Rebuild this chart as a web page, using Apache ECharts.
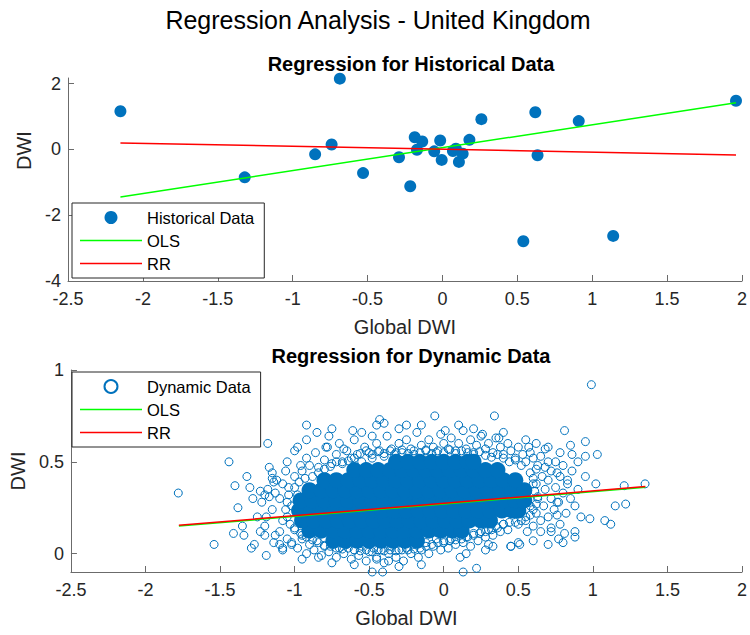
<!DOCTYPE html>
<html><head><meta charset="utf-8">
<script src="https://cdn.jsdelivr.net/npm/echarts@6/dist/echarts.min.js"></script>
<style>html,body{margin:0;padding:0;background:#fff}#c{width:750px;height:635px}</style>
</head><body><div id="c"></div>
<script>
const FONT = "'Liberation Sans', Arial, Helvetica, sans-serif";
const BLUE = '#0072BD';

// ---- axes ----
const xTicks = [-2.5, -2, -1.5, -1, -0.5, 0, 0.5, 1, 1.5, 2];
const yTicksHist = [-4, -2, 0, 2];
const yTicksDyn = [0, 0.5, 1];

// ---- historical data (top) ----
const histX = [-2.15, -1.32, -0.85, -0.74, -0.685, -0.53, -0.29, -0.215, -0.185, -0.17, -0.135, -0.055, -0.015, -0.005, 0.07, 0.09, 0.11, 0.135, 0.18, 0.26, 0.54, 0.62, 0.635, 0.91, 1.14, 1.96];
const histY = [1.16, -0.85, -0.15, 0.15, 2.15, -0.72, -0.24, -1.12, 0.37, -0.01, 0.24, -0.06, 0.27, -0.32, -0.05, 0.02, -0.38, -0.13, 0.29, 0.92, -2.79, 1.13, -0.18, 0.86, -2.63, 1.48];
const olsHistX = [-2.15, 1.96];
const olsHistY = [-1.45, 1.42];
const rrHistX = [-2.15, 1.96];
const rrHistY = [0.195, -0.17];

// ---- dynamic data (bottom) ----
const olsDynX = [-1.776, 1.352];
const olsDynY = [0.150, 0.362];
const rrDynX = [-1.776, 1.352];
const rrDynY = [0.154, 0.366];

// dense centre of the cloud, where the markers overlap into a solid area (read row by row)
const dynamicCoreY = [0.07, 0.125, 0.18, 0.235, 0.29, 0.345, 0.40, 0.455, 0.50];
const dynamicCoreX = [
 [-0.74,-0.66,-0.58,-0.5,-0.42,-0.34,-0.26,-0.18],
 [-0.9,-0.82,-0.74,-0.66,-0.58,-0.5,-0.42,-0.34,-0.26,-0.18,-0.1,-0.02,0.06,0.12],
 [-0.95,-0.87,-0.79,-0.71,-0.63,-0.55,-0.47,-0.39,-0.31,-0.23,-0.15,-0.07,0.01,0.09,0.17,0.25,0.31],
 [-0.97,-0.89,-0.81,-0.73,-0.65,-0.57,-0.49,-0.41,-0.33,-0.25,-0.17,-0.09,-0.01,0.07,0.15,0.23,0.31,0.39,0.46,0.5],
 [-0.96,-0.88,-0.8,-0.72,-0.64,-0.56,-0.48,-0.4,-0.32,-0.24,-0.16,-0.08,0,0.08,0.16,0.24,0.32,0.4,0.48,0.54],
 [-0.9,-0.82,-0.74,-0.66,-0.58,-0.5,-0.42,-0.34,-0.26,-0.18,-0.1,-0.02,0.06,0.14,0.22,0.3,0.38,0.46,0.54],
 [-0.8,-0.72,-0.64,-0.56,-0.48,-0.4,-0.32,-0.24,-0.16,-0.08,0,0.08,0.16,0.24,0.32,0.4,0.48],
 [-0.6,-0.52,-0.44,-0.36,-0.28,-0.2,-0.12,-0.04,0.04,0.12,0.2,0.28,0.36],
 [-0.32,-0.24,-0.16,-0.08,0,0.08,0.16,0.2]
];

// individual circles around the centre and outliers
const dynamicPoints = [
 // ring at the edge of the dense centre
 [-0.56,0.545],[-0.52,0.56],[-0.48,0.54],[-0.44,0.555],[-0.4,0.545],[-0.36,0.56],[-0.32,0.55],[-0.28,0.565],[-0.24,0.545],[-0.2,0.56],[-0.16,0.55],[-0.12,0.565],[-0.08,0.545],[-0.04,0.56],[0.0,0.55],[0.04,0.565],[0.08,0.545],[0.12,0.56],[0.16,0.55],[0.2,0.54],[0.24,0.555],[0.28,0.535],[0.32,0.525],[0.36,0.54],[0.4,0.52],[0.44,0.5],[0.48,0.51],[0.52,0.48],[-0.6,0.52],[-0.64,0.505],[-0.68,0.49],[-0.72,0.5],[-0.76,0.475],[-0.8,0.46],[-0.84,0.44],[-0.88,0.42],
 [0.58,0.44],[0.6,0.41],[0.62,0.38],[0.61,0.34],[0.63,0.31],[0.62,0.27],[0.6,0.24],[0.58,0.21],[0.55,0.2],[0.52,0.18],[0.48,0.17],[0.44,0.17],[0.4,0.16],
 [0.36,0.14],[0.32,0.13],[0.28,0.12],[0.24,0.11],[0.2,0.1],[0.16,0.09],[0.12,0.08],[0.08,0.075],[0.04,0.07],[0.0,0.07],[-0.04,0.06],[-0.08,0.05],[-0.12,0.04],[-0.16,0.03],[-0.2,0.025],[-0.24,0.02],[-0.28,0.02],[-0.32,0.015],[-0.36,0.02],[-0.4,0.015],[-0.44,0.02],[-0.48,0.01],[-0.52,0.02],[-0.56,0.015],[-0.6,0.02],[-0.64,0.03],[-0.68,0.025],[-0.72,0.03],[-0.76,0.04],[-0.8,0.045],[-0.84,0.06],[-0.88,0.075],[-0.92,0.09],[-0.96,0.11],
 [-1.0,0.13],[-1.03,0.16],[-1.05,0.2],[-1.06,0.24],[-1.05,0.28],[-1.04,0.32],[-1.0,0.36],[-0.97,0.39],[-0.93,0.41],
 // top band
 [-0.95,0.45],[-0.92,0.52],[-0.9,0.48],[-0.86,0.55],[-0.84,0.47],[-0.8,0.51],[-0.78,0.58],[-0.75,0.49],[-0.72,0.54],[-0.7,0.6],[-0.68,0.5],[-0.65,0.56],[-0.62,0.52],[-0.6,0.62],[-0.58,0.54],[-0.55,0.5],[-0.53,0.58],[-0.5,0.55],[-0.48,0.52],[-0.45,0.6],[-0.43,0.56],[-0.4,0.53],[-0.38,0.64],[-0.35,0.57],[-0.33,0.54],[-0.3,0.6],[-0.28,0.55],[-0.25,0.62],[-0.22,0.57],[-0.2,0.54],[-0.18,0.66],[-0.15,0.59],[-0.12,0.56],[-0.1,0.62],[-0.07,0.58],[-0.05,0.55],[-0.02,0.65],[0.0,0.6],[0.03,0.57],[0.05,0.63],[0.08,0.56],[0.1,0.6],[0.13,0.67],[0.15,0.57],[0.18,0.62],[0.2,0.55],[0.22,0.59],[0.25,0.64],[0.28,0.57],[0.3,0.6],[0.33,0.55],[0.35,0.63],[0.38,0.58],[0.4,0.54],[0.43,0.6],[0.45,0.56],[0.48,0.52],[0.5,0.58],[0.53,0.54],[0.55,0.5],[0.58,0.55],[0.6,0.52],[0.63,0.48],[0.65,0.53],[0.68,0.47],[0.7,0.5],
 // bottom band
 [-1.02,0.06],[-0.98,0.03],[-0.95,0.08],[-0.92,0.0],[-0.9,0.05],[-0.87,0.02],[-0.85,0.07],[-0.82,-0.01],[-0.8,0.04],[-0.77,0.01],[-0.75,0.06],[-0.72,-0.02],[-0.7,0.03],[-0.67,0.0],[-0.65,0.05],[-0.62,-0.03],[-0.6,0.02],[-0.57,-0.01],[-0.55,0.04],[-0.52,-0.04],[-0.5,0.01],[-0.47,0.03],[-0.45,-0.02],[-0.42,0.02],[-0.4,-0.05],[-0.37,0.0],[-0.35,0.04],[-0.32,-0.02],[-0.3,0.02],[-0.27,-0.04],[-0.25,0.03],[-0.22,0.0],[-0.2,0.05],[-0.17,-0.02],[-0.15,0.02],[-0.12,0.06],[-0.1,0.0],[-0.07,0.04],[-0.05,0.08],[-0.02,0.02],[0.0,0.06],[0.03,0.03],[0.05,0.08],[0.08,0.05],[0.1,0.1],[0.13,0.06],[0.15,0.09],[0.18,0.04],[0.2,0.11],[0.23,0.07],[0.25,0.12],[0.28,0.09],[0.3,0.13],[0.33,0.1],[0.35,0.15],[0.38,0.12],[0.4,0.16],[0.43,0.13],
 // left band
 [-1.25,0.2],[-1.22,0.28],[-1.2,0.15],[-1.18,0.35],[-1.15,0.24],[-1.13,0.1],[-1.12,0.4],[-1.1,0.3],[-1.08,0.18],[-1.06,0.45],[-1.05,0.08],[-1.04,0.36],[-1.02,0.26],[-1.0,0.14],[-1.0,0.42],[-0.98,0.32],[-0.97,0.2],[-0.96,0.48],[-0.95,0.1],[-1.15,0.44],[-1.1,0.12],[-1.08,0.38],[-1.2,0.32],[-1.23,0.12],[-1.14,0.06],
 // right band
 [0.5,0.16],[0.55,0.18],[0.6,0.15],[0.62,0.22],[0.65,0.18],[0.67,0.26],[0.7,0.2],[0.72,0.3],[0.74,0.24],[0.75,0.36],[0.77,0.28],[0.78,0.42],[0.8,0.33],[0.82,0.22],[0.83,0.38],[0.85,0.3],[0.7,0.4],[0.72,0.45],[0.66,0.42],[0.62,0.46],[0.68,0.35],[0.63,0.3],[0.6,0.38],[0.88,0.26],[0.9,0.35],[0.86,0.45],[0.8,0.48],[0.75,0.5],[0.58,0.26],[0.65,0.12],[0.72,0.14],[0.78,0.16],[0.56,0.12],
 // sparse layer
 [-1.35,0.15],[-1.32,0.42],[-1.28,0.3],[-1.27,0.05],[-1.38,0.25],[-1.05,0.5],[-0.98,0.58],[-0.92,0.62],[-0.85,0.66],[-0.75,0.68],[-0.55,0.66],[-0.45,0.7],[-0.3,0.68],[-0.15,0.7],[0.1,0.7],[0.2,0.68],[0.4,0.66],[0.55,0.62],[0.62,0.6],[0.7,0.58],[0.78,0.55],[0.9,0.5],[0.95,0.42],[0.92,0.2],[0.88,0.12],[0.8,0.06],[0.7,0.05],[0.6,0.07],[0.5,0.06],[0.45,0.04],[0.28,0.02],[0.15,0.0],[-0.15,-0.06],[-0.3,-0.07],[-0.6,-0.06],[-0.75,-0.05],[-0.95,-0.03],[-1.08,0.02],
 // outliers
 [-1.78,0.33],[-1.54,0.05],[-1.44,0.5],[-1.41,0.11],[-1.4,0.37],[-1.34,0.1],[-1.3,0.36],[-1.29,0.03],[-1.23,0.34],[-1.2,0.1],[-1.19,-0.01],[-1.18,0.6],[-1.17,0.47],[-1.17,0.31],[-1.19,0.2],[-1.15,0.41],[-1.14,0.39],[-1.13,0.33],[-1.1,0.05],[-1.08,0.03],[-1.02,0.05],[-1.0,0.56],[-0.92,0.7],[-0.84,-0.02],[-0.77,0.64],[-0.79,0.58],[-0.67,0.57],[-0.61,0.67],[-0.48,0.64],[-0.43,0.73],[-0.4,0.71],[-0.48,-0.1],[-0.41,-0.1],[-0.45,-0.03],[-0.37,-0.04],[-0.25,0.7],[-0.06,0.75],[0.01,0.67],[0.11,-0.02],[0.13,-0.1],[0.22,-0.08],[0.26,0.65],[0.34,0.75],[0.37,0.63],[0.57,0.58],[0.68,0.57],[0.81,0.67],[0.86,0.54],[0.85,0.59],[0.95,0.61],[0.95,0.53],[1.03,0.54],[0.99,0.92],[1.02,0.38],[0.98,0.19],[1.08,0.18],[1.12,0.16],[1.15,0.26],[1.22,0.27],[1.21,0.37],[1.35,0.38],[0.88,0.09],[0.81,0.11],[0.77,0.08],[0.72,0.12],[0.76,0.21],[0.76,0.28],[0.76,0.44],[0.83,0.4],[0.51,0.05],[0.45,0.04],[0.33,0.04],[0.3,0.05]
];

function pairs(xs, ys) { return xs.map((x, i) => [x, ys[i]]); }
const dynamicCore = [];
dynamicCoreY.forEach((y, r) => dynamicCoreX[r].forEach(x => dynamicCore.push([x, y])));

const AXIS_COLOR = '#6b6b6b';
const LABEL_COLOR = '#262626';
const LINE_ICON = 'path://M0,0H62V1.5H0Z';

function xAxisCfg(gridIndex) {
  return {
    type: 'value', gridIndex, min: -2.5, max: 2, interval: 0.5,
    name: 'Global DWI', nameLocation: 'middle', nameGap: 36,
    nameTextStyle: { fontFamily: FONT, fontSize: 20, color: LABEL_COLOR },
    axisLine: { show: true, onZero: false, lineStyle: { color: AXIS_COLOR, width: 1 } },
    axisTick: { show: true, inside: true, length: 6, lineStyle: { color: AXIS_COLOR }, customValues: xTicks },
    axisLabel: { fontFamily: FONT, fontSize: 18, color: LABEL_COLOR, margin: 9, customValues: xTicks },
    splitLine: { show: false }
  };
}
function yAxisCfg(gridIndex, min, max, interval, ticks, namePad) {
  return {
    type: 'value', gridIndex, min, max, interval,
    name: 'DWI', nameLocation: 'middle', nameGap: 32,
    nameTextStyle: { fontFamily: FONT, fontSize: 20, color: LABEL_COLOR, padding: namePad },
    axisLine: { show: true, onZero: false, lineStyle: { color: AXIS_COLOR, width: 1 } },
    axisTick: { show: true, inside: true, length: 6, lineStyle: { color: AXIS_COLOR }, customValues: ticks },
    axisLabel: { fontFamily: FONT, fontSize: 18, color: LABEL_COLOR, margin: 7, customValues: ticks },
    splitLine: { show: false }
  };
}
function legendCfg(top, names) {
  return {
    orient: 'vertical', left: 72, top,
    padding: [6, 10, 6, 8],
    itemWidth: 62, itemHeight: 13, itemGap: 6,
    selectedMode: false,
    backgroundColor: '#fff', borderColor: '#262626', borderWidth: 1,
    textStyle: { fontFamily: FONT, fontSize: 16.5, color: '#000' },
    data: [names[0], { name: names[1], icon: LINE_ICON }, { name: names[2], icon: LINE_ICON }]
  };
}

const chart = echarts.init(document.getElementById('c'), null, { renderer: 'svg' });
chart.setOption({
  animation: false,
  backgroundColor: '#fff',
  title: [
    { text: 'Regression Analysis - United Kingdom', left: 373, top: 2, textAlign: 'center',
      textStyle: { fontFamily: FONT, fontSize: 25, fontWeight: 'normal', color: '#000' } },
    { text: 'Regression for Historical Data', left: 406, top: 49, textAlign: 'center',
      textStyle: { fontFamily: FONT, fontSize: 20, fontWeight: 'bold', color: '#000' } },
    { text: 'Regression for Dynamic Data', left: 406, top: 341, textAlign: 'center',
      textStyle: { fontFamily: FONT, fontSize: 20, fontWeight: 'bold', color: '#000' } }
  ],
  grid: [
    { left: 68, right: 6, top: 78, height: 203 },
    { left: 68, right: 6, top: 370, height: 202 }
  ],
  xAxis: [xAxisCfg(0), xAxisCfg(1)],
  yAxis: [
    yAxisCfg(0, -4, 2.17, 2, yTicksHist, [0, 0, 0, 58]),
    yAxisCfg(1, -0.1, 1, 0.5, yTicksDyn, 0)
  ],
  legend: [
    legendCfg(203, ['Historical Data', 'OLS', 'RR']),
    legendCfg(372, ['Dynamic Data', 'OLS', 'RR'])
  ],
  series: [
    { name: 'Historical Data', type: 'scatter', xAxisIndex: 0, yAxisIndex: 0, symbolSize: 12,
      itemStyle: { color: BLUE, opacity: 1 }, data: pairs(histX, histY), z: 2 },
    { name: 'OLS', type: 'line', xAxisIndex: 0, yAxisIndex: 0, symbol: 'none',
      lineStyle: { color: '#00FF00', width: 1.5 }, itemStyle: { color: '#00FF00' }, data: pairs(olsHistX, olsHistY), z: 3 },
    { name: 'RR', type: 'line', xAxisIndex: 0, yAxisIndex: 0, symbol: 'none',
      lineStyle: { color: '#FF0000', width: 1.5 }, itemStyle: { color: '#FF0000' }, data: pairs(rrHistX, rrHistY), z: 3 },

    { name: 'dense core', type: 'scatter', xAxisIndex: 1, yAxisIndex: 1, symbolSize: 16, silent: true,
      itemStyle: { color: BLUE, opacity: 1 }, data: dynamicCore, z: 2 },
    { name: 'Dynamic Data', type: 'scatter', xAxisIndex: 1, yAxisIndex: 1, symbolSize: 8, clip: false,
      itemStyle: { color: 'rgba(255,255,255,0)', borderColor: BLUE, borderWidth: 1, opacity: 1 },
      data: dynamicPoints, z: 2 },
    { name: 'OLS', type: 'line', xAxisIndex: 1, yAxisIndex: 1, symbol: 'none',
      lineStyle: { color: '#00FF00', width: 1.5 }, itemStyle: { color: '#00FF00' }, data: pairs(olsDynX, olsDynY), z: 3 },
    { name: 'RR', type: 'line', xAxisIndex: 1, yAxisIndex: 1, symbol: 'none',
      lineStyle: { color: '#FF0000', width: 1.5 }, itemStyle: { color: '#FF0000' }, data: pairs(rrDynX, rrDynY), z: 3 }
  ]
});
</script>
</body></html>
